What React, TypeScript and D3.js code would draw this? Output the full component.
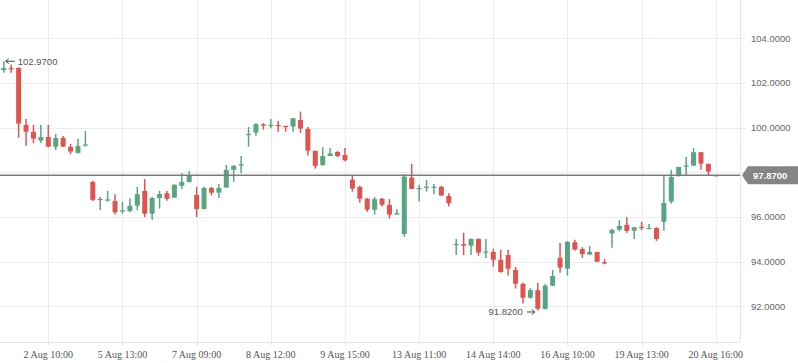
import React, { useEffect, useRef } from 'react';
import * as d3 from 'd3';

// OHLC per bar (bar index = position in the arrays)
const opens = [
  102.58, 102.66, 102.67, 100.12, 99.81, 99.42, 99.58, 99.15, 99.54, 99.14,
  98.87, 99.22, 97.57, 96.81, 96.74, 96.72, 96.26, 96.27, 96.51, 97.17,
  96.15, 96.85, 97.06, 96.87, 97.4, 97.57, 96.99, 96.36, 97.3, 97.09,
  97.32, 98.11, 98.3, 99.69, 99.78, 100.15, 100.1, 100.12, 100.08, 100.05,
  100.34, 99.94, 98.96, 98.33, 98.73, 98.91, 98.78, 97.67, 97.35, 96.82,
  96.33, 96.82, 96.54, 96.11, 95.24, 97.76, 97.27, 97.33, 97.33, 97.35,
  96.94, 94.77, 94.79, 94.72, 95.02, 94.43, 94.44, 94.09, 94.3, 93.63,
  93.01, 92.39, 92.73, 91.89, 92.93, 94.18, 93.69, 94.87, 94.57, 94.32,
  94.44, 93.98, 95.26, 95.44, 95.65, 95.39, 95.56, 95.48, 95.51, 95.79,
  96.69, 97.83, 98.28, 98.3, 98.9, 98.38, 97.87,
];
const highs = [
  102.97, 102.82, 102.7, 100.39, 100.12, 100.12, 100.12, 99.72, 99.63, 99.27,
  99.49, 99.85, 97.62, 96.91, 97.17, 97.02, 96.68, 96.84, 97.35, 97.7,
  96.9, 97.17, 97.17, 97.47, 97.96, 98.06, 97.35, 97.35, 97.35, 97.48,
  98.33, 98.33, 98.73, 100.03, 100.21, 100.2, 100.39, 100.3, 100.08, 100.43,
  100.72, 100.03, 98.97, 99.12, 99.09, 98.96, 99.09, 97.88, 97.4, 96.85,
  96.9, 96.85, 96.81, 96.36, 97.93, 98.38, 97.44, 97.66, 97.48, 97.4,
  97.06, 95.02, 95.3, 95.04, 95.04, 95.02, 94.59, 94.54, 94.54, 93.77,
  93.06, 92.83, 93.05, 93.01, 93.63, 94.84, 94.93, 94.98, 94.65, 94.71,
  94.45, 94.13, 95.48, 95.87, 96.0, 95.55, 95.79, 95.69, 95.55, 97.88,
  98.11, 98.25, 98.69, 99.09, 98.91, 98.39, 97.88,
];
const lows = [
  102.45, 102.45, 99.55, 99.19, 99.3, 99.3, 99.14, 99.0, 99.13, 98.82,
  98.84, 99.15, 96.72, 96.32, 96.69, 96.13, 96.15, 96.21, 96.3, 96.0,
  95.88, 96.38, 96.73, 96.86, 97.27, 97.55, 96.0, 96.34, 96.96, 96.85,
  97.31, 97.58, 97.96, 99.15, 99.64, 99.91, 99.97, 99.82, 99.82, 99.82,
  99.76, 98.75, 98.17, 98.29, 98.72, 98.68, 98.5, 97.14, 96.64, 96.24,
  96.11, 96.47, 95.93, 96.1, 95.12, 97.25, 96.69, 97.14, 97.02, 96.95,
  96.47, 94.3, 94.3, 94.3, 94.27, 94.17, 93.78, 93.51, 93.38, 92.8,
  92.13, 92.35, 91.82, 91.86, 92.92, 93.51, 93.38, 94.5, 94.18, 94.31,
  93.99, 93.89, 94.63, 95.36, 95.3, 95.02, 95.42, 95.47, 94.93, 95.39,
  96.6, 97.82, 97.88, 98.29, 98.12, 97.88, 97.86,
];
const closes = [
  102.67, 102.62, 100.18, 99.82, 99.51, 99.58, 99.15, 99.54, 99.15, 98.93,
  99.18, 99.25, 96.77, 96.81, 96.79, 96.21, 96.3, 96.5, 97.02, 96.15,
  96.85, 97.03, 96.82, 97.44, 97.57, 97.87, 96.36, 97.3, 97.09, 97.3,
  98.11, 98.29, 98.36, 99.72, 100.15, 100.09, 100.12, 100.09, 100.04, 100.42,
  99.96, 98.97, 98.29, 98.73, 98.85, 98.73, 98.54, 97.27, 96.82, 96.33,
  96.8, 96.55, 96.11, 96.17, 97.81, 97.26, 97.3, 97.36, 97.36, 96.96,
  96.62, 94.8, 94.72, 95.02, 94.41, 94.46, 94.09, 93.54, 93.69, 93.02,
  92.39, 92.73, 91.9, 92.93, 93.36, 93.74, 94.89, 94.54, 94.34, 94.44,
  94.0, 93.92, 95.42, 95.6, 95.38, 95.54, 95.52, 95.51, 95.02, 96.63,
  97.79, 98.24, 98.31, 98.9, 98.39, 98.03, 97.87,
];

const tickIndex = [6, 16, 26, 36, 46, 56, 66, 76, 86, 96];
const tickLabels = [
  '2 Aug 10:00', '5 Aug 13:00', '7 Aug 09:00', '8 Aug 12:00', '9 Aug 15:00',
  '13 Aug 11:00', '14 Aug 14:00', '16 Aug 10:00', '19 Aug 13:00', '20 Aug 16:00',
];
const priceTicks = [92, 94, 96, 98, 100, 102, 104];

const UP = '#58a67f';
const DOWN = '#e0544f';
const FLAT = '#858585';
const SANS = '"Liberation Sans", Arial, sans-serif';

const CandleChart = () => {
  const svgRef = useRef(null);

  useEffect(() => {
    const svg = d3.select(svgRef.current);
    svg.selectAll('*').remove();

    const plotRight = 740;
    const plotBottom = 342;

    const bars = opens.map((o, i) => ({ i, o, h: highs[i], l: lows[i], c: closes[i] }));

    const x = d3.scaleLinear().domain([0, 96]).range([3.8, 715.8]);
    const y = d3.scaleLinear().domain([90.41, 105.71]).range([plotBottom, 0]);

    const grid = svg.append('g');
    grid.selectAll('line.h')
      .data(priceTicks)
      .join('line')
      .attr('x1', 0)
      .attr('x2', plotRight + 5)
      .attr('y1', (d) => Math.round(y(d)) + 0.5)
      .attr('y2', (d) => Math.round(y(d)) + 0.5)
      .attr('stroke', '#e9ecf0');
    grid.selectAll('line.v')
      .data(tickIndex)
      .join('line')
      .attr('x1', (d) => Math.round(x(d)) + 0.5)
      .attr('x2', (d) => Math.round(x(d)) + 0.5)
      .attr('y1', 0)
      .attr('y2', plotBottom + 4)
      .attr('stroke', '#e9ecf0');

    // axis lines
    svg.append('line')
      .attr('x1', 0).attr('x2', plotRight)
      .attr('y1', plotBottom + 0.5).attr('y2', plotBottom + 0.5)
      .attr('stroke', '#e2e5ea');
    svg.append('line')
      .attr('x1', plotRight + 0.5).attr('x2', plotRight + 0.5)
      .attr('y1', 0).attr('y2', plotBottom)
      .attr('stroke', '#e2e5ea');

    svg.append('g')
      .selectAll('text')
      .data(tickIndex)
      .join('text')
      .attr('x', (d) => x(d))
      .attr('y', 358)
      .attr('text-anchor', 'middle')
      .attr('font-family', '"Liberation Serif", serif')
      .attr('font-size', 10)
      .attr('fill', '#555')
      .text((d, k) => tickLabels[k]);

    svg.append('g')
      .selectAll('text')
      .data(priceTicks.filter((d) => d !== 98))
      .join('text')
      .attr('x', 751)
      .attr('y', (d) => y(d))
      .attr('dy', '0.35em')
      .attr('font-family', SANS)
      .attr('font-size', 9.5)
      .attr('fill', '#666')
      .text((d) => d.toFixed(4));

    const color = (d) => (d.c > d.o ? UP : d.c < d.o ? DOWN : FLAT);

    const candles = svg.append('g')
      .selectAll('g')
      .data(bars)
      .join('g');

    candles.append('line')
      .attr('x1', (d) => x(d.i))
      .attr('x2', (d) => x(d.i))
      .attr('y1', (d) => y(d.h))
      .attr('y2', (d) => y(d.l))
      .attr('stroke', color)
      .attr('stroke-width', 1.5);

    candles.append('rect')
      .attr('x', (d) => x(d.i) - 2.5)
      .attr('width', 5)
      .attr('y', (d) => y(Math.max(d.o, d.c)))
      .attr('height', (d) => Math.max(1.2, Math.abs(y(d.o) - y(d.c))))
      .attr('fill', color);

    // last price line and tag
    const last = closes[closes.length - 1];
    const ly = y(last);
    svg.append('line')
      .attr('x1', 0).attr('x2', plotRight)
      .attr('y1', ly).attr('y2', ly)
      .attr('stroke', '#7a7a7a')
      .attr('stroke-width', 1.5);
    svg.append('path')
      .attr('d', `M742,${ly} L748,${ly - 9} L798,${ly - 9} L798,${ly + 9} L748,${ly + 9} Z`)
      .attr('fill', '#858585');
    svg.append('text')
      .attr('x', 753)
      .attr('y', ly)
      .attr('dy', '0.35em')
      .attr('font-family', SANS)
      .attr('font-size', 9.5)
      .attr('font-weight', 'bold')
      .attr('fill', '#fff')
      .text(last.toFixed(4));

    // high / low markers with small arrows
    const hi = d3.maxIndex(highs);
    const lo = d3.minIndex(lows);
    const hx = x(hi) + 2;
    const hy = y(highs[hi]);
    svg.append('path')
      .attr('d', `M${hx + 9},${hy} L${hx},${hy} M${hx + 3},${hy - 2.5} L${hx},${hy} L${hx + 3},${hy + 2.5}`)
      .attr('fill', 'none')
      .attr('stroke', '#444')
      .attr('stroke-width', 1);
    svg.append('text')
      .attr('x', hx + 12)
      .attr('y', hy + 0.5)
      .attr('dy', '0.35em')
      .attr('font-family', SANS)
      .attr('font-size', 9.5)
      .attr('fill', '#555')
      .text(highs[hi].toFixed(4));

    const lx = x(lo) - 3;
    const lyy = y(lows[lo]) + 1.5;
    svg.append('path')
      .attr('d', `M${lx - 8},${lyy} L${lx},${lyy} M${lx - 3},${lyy - 2.5} L${lx},${lyy} L${lx - 3},${lyy + 2.5}`)
      .attr('fill', 'none')
      .attr('stroke', '#444')
      .attr('stroke-width', 1);
    svg.append('text')
      .attr('x', lx - 12)
      .attr('y', lyy)
      .attr('dy', '0.35em')
      .attr('text-anchor', 'end')
      .attr('font-family', SANS)
      .attr('font-size', 9.5)
      .attr('fill', '#555')
      .text(lows[lo].toFixed(4));
  }, []);

  return (
    <svg
      ref={svgRef}
      width="798"
      height="363"
      style={{ position: 'absolute', left: 0, top: 0, background: '#fff' }}
    />
  );
};

export default function App() {
  return <CandleChart />;
}
